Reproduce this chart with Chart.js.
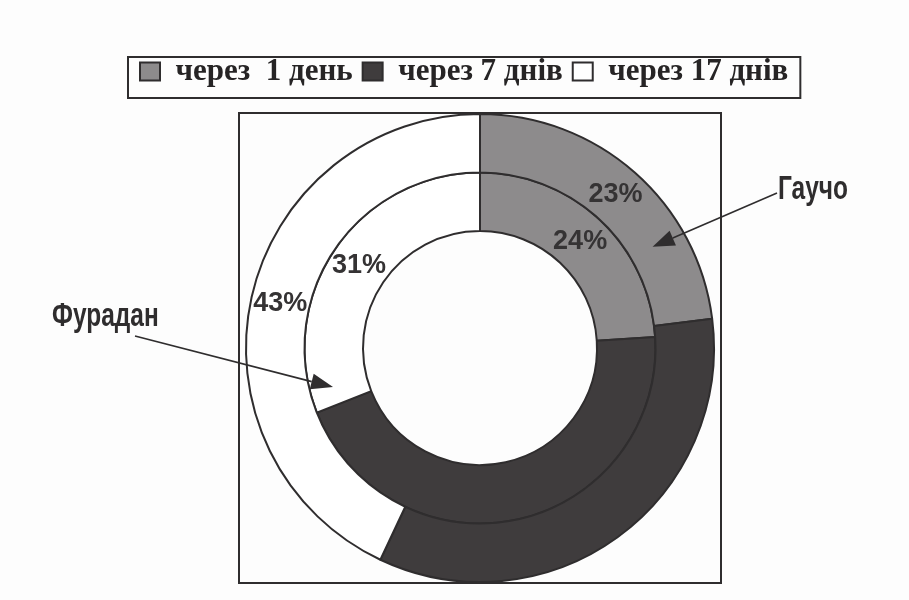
<!DOCTYPE html>
<html>
<head>
<meta charset="utf-8">
<script src="https://cdn.jsdelivr.net/npm/chart.js@4.4.1/dist/chart.umd.min.js"></script>
<style>
  html, body { margin: 0; padding: 0; background: #fdfdfd; }
  #wrap { position: relative; width: 909px; height: 600px; }
</style>
</head>
<body>
<div id="wrap"><canvas id="donut" width="909" height="600"></canvas></div>
<script>
// дані діаграми
const periods = ["через  1 день", "через 7 днів", "через 17 днів"];
const gaucho = [23, 34, 43];   // зовнішнє кільце
const furadan = [24, 45, 31];  // внутрішнє кільце
const ringNames = ["Гаучо", "Фурадан"];
const sliceColors = ["#8d8b8c", "#3f3c3d", "#ffffff"];
const showValue = [true, false, true]; // на чорному секторі підпису немає

const ink = "#2f2d2e";

// трохи більше місця під легендою
const legendGap = {
  id: "legendGap",
  beforeInit(chart) {
    const fit = chart.legend.fit;
    chart.legend.fit = function () {
      fit.call(this);
      this.height += 16;
    };
  }
};

// рамка навколо кільця
const framePlugin = {
  id: "frame",
  beforeDatasetsDraw(chart) {
    const arc = chart.getDatasetMeta(0).data[0];
    if (!arc) return;
    const { x, y, outerRadius } = arc.getProps(["x", "y", "outerRadius"], true);
    const ctx = chart.ctx;
    ctx.save();
    ctx.strokeStyle = ink;
    ctx.lineWidth = 2;
    ctx.strokeRect(x - outerRadius - 7, y - outerRadius - 1, outerRadius * 2 + 14, outerRadius * 2 + 2);
    ctx.restore();
  }
};

// рамка навколо легенди
const legendBoxPlugin = {
  id: "legendBox",
  afterDraw(chart) {
    const boxes = chart.legend && chart.legend.legendHitBoxes;
    if (!boxes || !boxes.length) return;
    const first = boxes[0], last = boxes[boxes.length - 1];
    const ctx = chart.ctx;
    ctx.save();
    ctx.strokeStyle = ink;
    ctx.lineWidth = 2;
    ctx.strokeRect(first.left - 12, first.top + 1, last.left + last.width - first.left + 24, 41);
    ctx.restore();
  }
};

// відсотки на секторах
const valueLabels = {
  id: "valueLabels",
  afterDatasetsDraw(chart) {
    const ctx = chart.ctx;
    ctx.save();
    ctx.font = "bold 27px 'Liberation Sans', Arial, sans-serif";
    ctx.fillStyle = "#353334";
    ctx.textAlign = "center";
    ctx.textBaseline = "middle";
    chart.data.datasets.forEach((ds, i) => {
      chart.getDatasetMeta(i).data.forEach((arc, j) => {
        if (!showValue[j]) return;
        const p = arc.getCenterPoint(true);
        ctx.fillText(ds.data[j] + "%", p.x, p.y);
      });
    });
    ctx.restore();
  }
};

// підписи кілець зі стрілками
const callouts = [
  { ring: 0, slice: 0, along: 0.72, depth: 0.42, textDx: 298, textDy: -149, lineDx: 297, lineDy: -155 },
  { ring: 1, slice: 2, along: 0.06, depth: 0.6, textDx: -428, textDy: -22, lineDx: -345, lineDy: -12 }
];

const calloutPlugin = {
  id: "callouts",
  afterDraw(chart) {
    const ctx = chart.ctx;
    ctx.save();
    ctx.fillStyle = ink;
    ctx.strokeStyle = ink;
    ctx.lineWidth = 1.6;
    callouts.forEach((c, k) => {
      const arc = chart.getDatasetMeta(c.ring).data[c.slice];
      const a = arc.getProps(["x", "y", "startAngle", "endAngle", "innerRadius", "outerRadius"], true);
      const ang = a.startAngle + c.along * (a.endAngle - a.startAngle);
      const r = a.innerRadius + c.depth * (a.outerRadius - a.innerRadius);
      const tx = a.x + Math.cos(ang) * r, ty = a.y + Math.sin(ang) * r;
      const sx = a.x + c.lineDx, sy = a.y + c.lineDy;

      // вузький жирний шрифт
      ctx.save();
      ctx.translate(a.x + c.textDx, a.y + c.textDy);
      ctx.scale(0.72, 1);
      ctx.font = "bold 34px 'Liberation Sans', Arial, sans-serif";
      ctx.textBaseline = "alphabetic";
      ctx.fillText(ringNames[k], 0, 0);
      ctx.restore();

      const d = Math.atan2(ty - sy, tx - sx);
      const len = 22, half = 8;
      const bx = tx - Math.cos(d) * len, by = ty - Math.sin(d) * len;
      ctx.beginPath();
      ctx.moveTo(sx, sy);
      ctx.lineTo(bx, by);
      ctx.stroke();
      ctx.beginPath();
      ctx.moveTo(tx, ty);
      ctx.lineTo(bx + Math.sin(d) * half, by - Math.cos(d) * half);
      ctx.lineTo(bx - Math.sin(d) * half, by + Math.cos(d) * half);
      ctx.closePath();
      ctx.fill();
    });
    ctx.restore();
  }
};

new Chart(document.getElementById("donut").getContext("2d"), {
  type: "doughnut",
  data: {
    labels: periods,
    datasets: [
      { label: ringNames[0], data: gaucho, backgroundColor: sliceColors, borderColor: ink, borderWidth: 2 },
      { label: ringNames[1], data: furadan, backgroundColor: sliceColors, borderColor: ink, borderWidth: 2 }
    ]
  },
  options: {
    responsive: false,
    animation: false,
    cutout: "50%",
    layout: { padding: { top: 46, left: 130, right: 79, bottom: 17 } },
    plugins: {
      legend: {
        position: "top",
        align: "start",
        labels: {
          font: { family: "'Liberation Serif', 'Times New Roman', serif", size: 31, weight: "bold" },
          color: "#262425",
          boxWidth: 20,
          boxHeight: 18,
          padding: 10
        }
      },
      tooltip: { enabled: false }
    }
  },
  plugins: [legendGap, framePlugin, legendBoxPlugin, valueLabels, calloutPlugin]
});
</script>
</body>
</html>
